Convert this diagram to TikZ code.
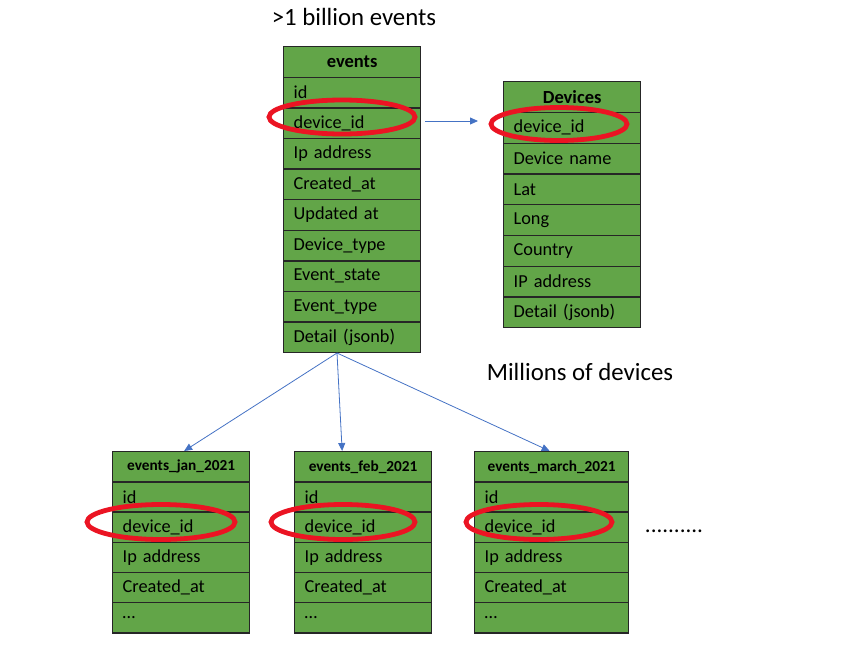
\documentclass[tikz,border=0pt]{standalone}
\usepackage{fontspec}
\setmainfont{Carlito}
\usetikzlibrary{arrows.meta,shapes.geometric,calc}
\definecolor{tgreen}{RGB}{98,165,72}
\definecolor{ered}{RGB}{235,20,35}
\definecolor{ablue}{RGB}{68,114,196}
\begin{document}
\begin{tikzpicture}[x=1pt,y=-1pt,
  cellbase/.style={draw=black!85, line width=1.3pt, fill=tgreen, minimum width=137pt, inner ysep=0pt, inner xsep=10pt, anchor=north west, text width=117pt},
  cell/.style={cellbase, minimum height=30.6pt, align=left, font=\fontsize{18.3}{21}\selectfont},
  hcell/.style={cellbase, minimum height=30.6pt, align=center, font=\fontsize{18.5}{21}\selectfont\bfseries},
  scell/.style={cellbase, minimum height=30.2pt, align=left, font=\fontsize{18.3}{21}\selectfont},
  shcell/.style={cellbase, minimum height=30.2pt, align=center, font=\fontsize{15.3}{18}\selectfont\bfseries},
  hilite/.style={draw=ered, line width=4.8pt, ellipse, inner sep=0pt},
  conn/.style={draw=ablue, line width=0.8pt, -{Triangle[length=8pt,width=7pt]}},
  bigtext/.style={font=\fontsize{24.8}{28}\selectfont}
]
\useasboundingbox (0,0) rectangle (847,651);

% events table
\node[hcell] (ev0) at (283,46) {events};
\foreach \t [count=\i] in {id,device\_id,Ip address,Created\_at,Updated at,Device\_type,Event\_state,Event\_type,Detail (jsonb)}
  \node[cell] (ev\i) at (283,46+\i*30.6) {\t};

% devices table
\node[hcell] (dv0) at (503,81) {Devices};
\foreach \t [count=\i] in {device\_id,Device name,Lat,Long,Country,IP address,Detail (jsonb)}
  \node[cell, minimum height=30.75pt] (dv\i) at (503,81+\i*30.75) {\t};

% partition tables
\foreach \n/\x/\w/\tw/\h in {ja/112/137/117/events\_jan\_2021, fe/294/137/117/events\_feb\_2021, ma/474/154/134/events\_march\_2021}{
  \node[shcell, minimum width=\w pt, text width=\tw pt] (\n0) at (\x,451) {\h};
  \foreach \t [count=\i] in {id,device\_id,Ip address,Created\_at,\ldots}
    \node[scell, minimum width=\w pt, text width=\tw pt] (\n\i) at (\x,451+\i*30.2) {\t};
}

% highlight ellipses
\node[hilite, minimum width=146pt, minimum height=34pt] (hev) at (342,117) {};
\node[hilite, minimum width=136pt, minimum height=33pt] (hdv) at (559,124) {};
\node[hilite, minimum width=148pt, minimum height=35pt] (hja) at (161,522) {};
\node[hilite, minimum width=144pt, minimum height=35pt] (hfe) at (343,522) {};
\node[hilite, minimum width=146pt, minimum height=35pt] (hma) at (539,522) {};

% texts
\node[bigtext] (t1) at (354,17) {>1 billion events};
\node[bigtext] (t2) at (580,372) {Millions of devices};
\node[font=\fontsize{23}{26}\selectfont] (t3) at (674,531) {..........};

% connectors
\coordinate (src) at (337,353);
\coordinate (a1) at (425,121);
\coordinate (a2) at (478,121);
\draw[conn] (a1) -- (a2);
\draw[conn] (src) -- ($(ja0.north)+(3,0)$);
\draw[conn] (src) -- ($(fe0.north)+(-21,0)$);
\draw[conn] (src) -- ($(ma0.north)+(-2,0)$);
\end{tikzpicture}
\end{document}
